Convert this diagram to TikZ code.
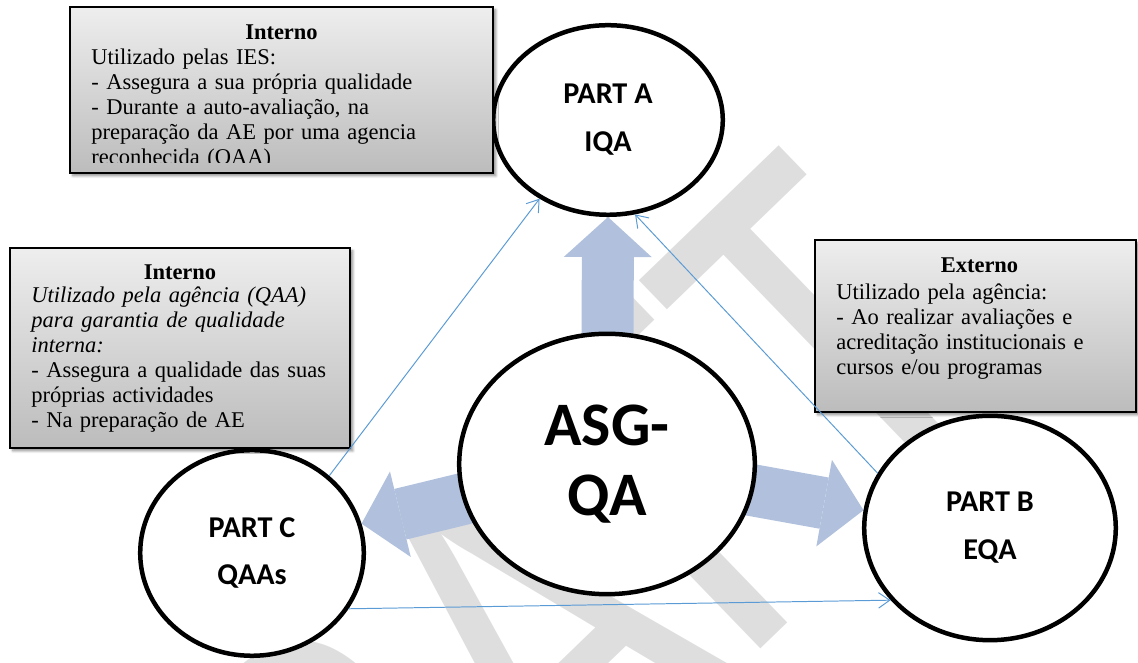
\documentclass[tikz,border=0pt]{standalone}
\usepackage{fontspec}
\setmainfont{Liberation Serif}
\newfontfamily\carlito{Carlito}
\usetikzlibrary{shapes.geometric, arrows.meta, backgrounds, shadows.blur}

\definecolor{boxtop}{RGB}{238,238,238}
\definecolor{boxbottom}{RGB}{188,188,188}
\definecolor{arrowblue}{RGB}{177,193,221}
\definecolor{linkblue}{RGB}{91,155,213}
\definecolor{draftgray}{RGB}{222,222,222}

\newcommand{\partfont}{\carlito\bfseries\fontsize{21.5pt}{34pt}\selectfont}
\newcommand{\hubfont}{\carlito\bfseries\fontsize{44pt}{50pt}\selectfont}
\newcommand{\boxfont}{\fontsize{16pt}{17.8pt}\selectfont}
\newcommand{\draftfont}{\carlito\fontsize{298pt}{300pt}\selectfont}

\tikzset{
    partnode/.style={ellipse, draw=black, line width=3.2pt, fill=white,
        inner sep=0pt, align=center, font=\partfont},
    hubnode/.style={partnode, font=\hubfont},
    infobox/.style={rectangle, draw=black, line width=1.4pt,
        top color=boxtop, bottom color=boxbottom,
        blur shadow={shadow xshift=2pt, shadow yshift=-2pt, shadow blur steps=6, shadow opacity=45}},
    boxtitle/.style={anchor=base, inner sep=0pt, font=\boxfont\bfseries},
    boxbody/.style={anchor=base west, inner sep=0pt, align=left, font=\boxfont},
    bigarrow/.style={draw=arrowblue, line width=1.3cm,
        -{Triangle[length=1cm, width=2.2cm, line width=0pt]}},
    linkline/.style={draw=linkblue, line width=0.7pt,
        -{Straight Barb[length=8pt, width=11pt]}},
}

\begin{document}
\begin{tikzpicture}
    \useasboundingbox (0,0) rectangle (28.45,16.575);

    % Draw the hub and the three parts.
    \node[hubnode, minimum width=7.39cm, minimum height=6.51cm] (asg) at (15.175,4.975) {ASG-\\QA};
    \foreach \name/\pos/\w/\h/\txt in {
        parta/{15.2,13.575}/5.74/4.74/{PART A\\IQA},
        partb/{24.75,3.375}/6.29/5.61/{PART B\\EQA},
        partc/{6.3,2.75}/5.59/5.14/{PART C\\QAAs}}
        \node[partnode, minimum width=\w cm, minimum height=\h cm] (\name) at (\pos) {\txt};

    % Draw the text boxes.
    \node[infobox, minimum width=10.575cm, minimum height=4.15cm] (boxa) at (7.0375,14.325) {};
    \node[infobox, minimum width=8.5cm, minimum height=5cm] (boxc) at (4.5,7.875) {};
    \node[infobox, minimum width=8.025cm, minimum height=4.3cm] (boxb) at (24.3875,8.425) {};

    \node[boxtitle] (boxatitle) at ([yshift=-0.83cm]boxa.north) {Interno};
    \node[boxtitle] (boxctitle) at ([yshift=-0.8cm]boxc.north) {Interno};
    \node[boxtitle] (boxbtitle) at ([xshift=0.1cm, yshift=-0.83cm]boxb.north) {Externo};

    % Last line of the first box is cut by its frame.
    \begin{scope}
        \clip (boxa.north west) rectangle ([yshift=0.28cm]boxa.south east);
        \node[boxbody, text width=9.6cm] (boxatext) at ([shift={(0.55,-1.47)}]boxa.north west)
            {Utilizado pelas IES:\\
             - Assegura a sua própria qualidade\\
             - Durante a auto-avaliação, na\\
             preparação da AE por uma agencia\\
             reconhecida (OAA)};
    \end{scope}
    \node[boxbody, text width=7.8cm] (boxctext) at ([shift={(0.55,-1.38)}]boxc.north west)
        {\textit{Utilizado pela agência (QAA)}\\
         \textit{para garantia de qualidade}\\
         \textit{interna:}\\
         - Assegura a qualidade das suas\\
         próprias actividades\\
         - Na preparação de AE};
    \node[boxbody, text width=7.2cm] (boxbtext) at ([shift={(0.55,-1.5)}]boxb.north west)
        {Utilizado pela agência:\\
         - Ao realizar avaliações e\\
         acreditação institucionais e\\
         cursos e/ou programas};

    % Watermark and wide arrows go behind everything.
    \begin{scope}[on background layer]
        \clip (0,0) rectangle (28.45,16.575);
        \begin{scope}[shift={(12.5,0.125)}, rotate=44, yscale=1.3, transform shape]
            \node[text=draftgray, inner sep=0pt, font=\draftfont] (draft) at (0,0) {DRAFT};
        \end{scope}
        \foreach \target in {parta.south, partb.172, partc.15}
            \draw[bigarrow] (asg.center) -- (\target);
    \end{scope}

    % Thin links between the parts.
    \foreach \from/\to in {partc.45/parta.229, partb.154/parta.286, partc.-30/partb.216}
        \draw[linkline] (\from) -- (\to);
\end{tikzpicture}
\end{document}
